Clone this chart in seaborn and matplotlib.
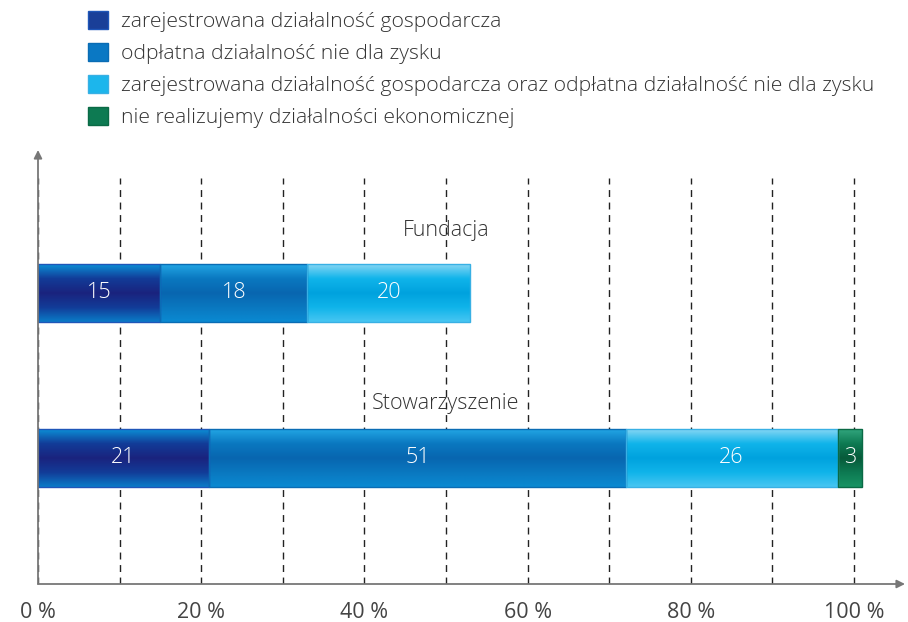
import numpy as np
import pandas as pd
import matplotlib
matplotlib.use("Agg")
import matplotlib.pyplot as plt
import seaborn as sns
from matplotlib.colors import LinearSegmentedColormap
from matplotlib.patches import Patch

# ---- data ----
categories = ["Fundacja", "Stowarzyszenie"]
series_names = [
    "zarejestrowana działalność gospodarcza",
    "odpłatna działalność nie dla zysku",
    "zarejestrowana działalność gospodarcza oraz odpłatna działalność nie dla zysku",
    "nie realizujemy działalności ekonomicznej",
]
zarejestrowana = [15, 21]
odplatna = [18, 51]
obie = [20, 26]
brak = [0, 3]
tick_values = [0, 20, 40, 60, 80, 100]
tick_labels = ["0 %", "20 %", "40 %", "60 %", "80 %", "100 %"]

series_values = [zarejestrowana, odplatna, obie, brak]

# ---- style ----
gradients = [
    ["#0b8fd6", "#123c98", "#1a237e", "#123c98", "#0a7cc8"],
    ["#22a6e4", "#0a78c0", "#0866b0", "#0a78c0", "#0a8ad2"],
    ["#86d6f4", "#10b4ea", "#00a2de", "#10b4ea", "#48c6f2"],
    ["#32a67e", "#0d7a52", "#075a3a", "#0d7a52", "#189464"],
]
edge_colors = ["#1f56b8", "#0a6cb4", "#38b0e4", "#0a6a45"]
legend_colors = ["#1a3f98", "#0a78c4", "#1cb6ec", "#0d7a52"]
label_offsets = [-0.38, -0.33]
FS = 15.5

sns.set_theme(style="white")
plt.rcParams["font.family"] = ["Open Sans", "DejaVu Sans"]

W, H = 908, 622
fig = plt.figure(figsize=(W / 100, H / 100), dpi=100)
ax = fig.add_axes([38 / W, (H - 584) / H, 867 / W, 406 / H])

bar_width = 0.35
cum = np.zeros(len(categories))
for name, vals, grad, edge in zip(series_names, series_values, gradients, edge_colors):
    df = pd.DataFrame({"category": categories, "value": vals})
    n_before = len(ax.patches)
    sns.barplot(data=df, x="value", y="category", order=categories, orient="h",
                color=grad[2], saturation=1, width=bar_width, errorbar=None,
                left=cum.copy(), ax=ax)
    new_patches = ax.patches[n_before:]
    cmap = LinearSegmentedColormap.from_list(name[:10], grad)
    g = np.linspace(0, 1, 256).reshape(-1, 1)
    for p, v in zip(new_patches, vals):
        if v <= 0:
            p.set_visible(False)
            continue
        x0, y0, w, h = p.get_x(), p.get_y(), p.get_width(), p.get_height()
        im = ax.imshow(g, cmap=cmap, aspect="auto", extent=(x0, x0 + w, y0 + h, y0),
                       origin="upper", interpolation="bilinear", zorder=2)
        im.set_clip_path(p)
        p.set_facecolor("none")
        p.set_edgecolor(edge)
        p.set_linewidth(1.0)
        p.set_zorder(3)
    container = ax.containers[-1]
    ax.bar_label(container, labels=[str(v) if v > 0 else "" for v in vals],
                 label_type="center", color="white", fontsize=FS,
                 fontweight="light", zorder=4)
    cum += np.array(vals)

# category labels above bars
for i, (cat, off) in enumerate(zip(categories, label_offsets)):
    ax.text(50, i + off, cat, ha="center", va="center", fontsize=FS,
            color="#333333", fontweight="light")

ax.set_xlim(0, 106.25)
ax.set_ylim(1.764, -0.697)
ax.set_xticks(tick_values)
ax.set_xticklabels(tick_labels)
ax.set_xticks(list(range(10, 101, 20)), minor=True)
ax.set_yticks([])
ax.set_xlabel("")
ax.set_ylabel("")
ax.grid(axis="x", which="both", color="#222222", linestyle=(0, (5, 4)), linewidth=1.0)
ax.set_axisbelow(True)
ax.tick_params(axis="x", which="both", length=0, pad=13, labelsize=FS, labelcolor="#444444")
for s in ax.spines.values():
    s.set_visible(False)

# axis arrows
ax.annotate("", xy=(1, 0), xytext=(0, 0), xycoords="axes fraction",
            arrowprops=dict(arrowstyle="-|>", color="#777777", lw=1.3, mutation_scale=12,
                            shrinkA=0, shrinkB=0))
ax.annotate("", xy=(0, 1 + 28 / 406), xytext=(0, 0), xycoords="axes fraction",
            arrowprops=dict(arrowstyle="-|>", color="#777777", lw=1.3, mutation_scale=12,
                            shrinkA=0, shrinkB=0))

handles = [Patch(facecolor=c, edgecolor=e, linewidth=1) for c, e in zip(legend_colors, edge_colors)]
fig.legend(handles, series_names, loc="upper left", bbox_to_anchor=(88 / W, 1 - 11 / H),
           frameon=False, handlelength=0.95, handleheight=0.95,
           labelspacing=0.5, handletextpad=0.6, borderpad=0, borderaxespad=0,
           labelcolor="#333333", prop={"weight": "light", "size": 15.2})

fig.savefig("out.png", dpi=100)
